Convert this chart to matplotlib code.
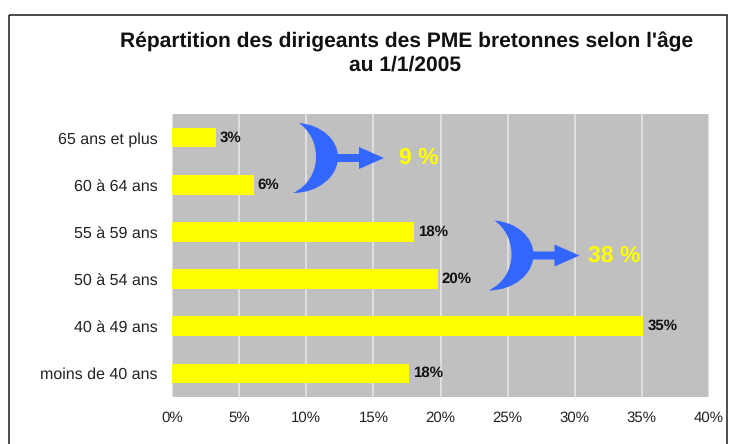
import matplotlib
matplotlib.use("Agg")
import matplotlib.pyplot as plt
from matplotlib.path import Path
from matplotlib.patches import PathPatch, Rectangle

plt.rcParams['font.family'] = ['Liberation Sans', 'DejaVu Sans']
plt.rcParams['text.hinting'] = 'none'
plt.rcParams['text.hinting_factor'] = 1

# donnees
categories = ["moins de 40 ans", "40 à 49 ans", "50 à 54 ans", "55 à 59 ans", "60 à 64 ans", "65 ans et plus"]
values = [17.65, 35.1, 19.8, 18.0, 6.1, 3.28]
labels = ["18%", "35%", "20%", "18%", "6%", "3%"]
xticks = [0, 5, 10, 15, 20, 25, 30, 35, 40]

W, H = 739, 444
fig = plt.figure(figsize=(W / 100, H / 100), dpi=100, facecolor='white')

# cadre et formes dessines en pixels
over = fig.add_axes([0, 0, 1, 1], zorder=0)
over.set_xlim(0, W)
over.set_ylim(H, 0)
over.axis('off')
over.add_patch(Rectangle((9, 15), 718, 440, fill=False, edgecolor='#1a1a1a', linewidth=1.1, clip_on=False))

# zone du graphique
ax = fig.add_axes([172 / W, 1 - 397 / H, 537 / W, 283 / H], zorder=1)
ax.set_facecolor('#c0c0c0')
ax.barh(range(len(values)), values, height=0.42, color='#ffff00', zorder=3)
ax.set_xlim(0, 40)
ax.set_ylim(-0.5, 5.5)
ax.set_xticks(xticks)
ax.set_xticklabels([f"{t}%" for t in xticks], fontsize=11, color='#222222')
ax.set_yticks(range(len(categories)))
ax.set_yticklabels(categories, fontsize=11.5, color='#222222')
ax.tick_params(length=0)
ax.tick_params(axis='x', pad=10)
ax.tick_params(axis='y', pad=10.5)
ax.grid(axis='x', color='#e8e8e8', linewidth=1.1, zorder=1)
ax.set_axisbelow(True)
for s in ax.spines.values():
    s.set_visible(False)
for i, v in enumerate(values):
    ax.text(v + 0.3, i, labels[i], va='center', ha='left', fontsize=11, fontweight='bold', color='#111111', zorder=4)

# titre
fig.text(407 / W, 1 - 42 / H, "Répartition des dirigeants des PME bretonnes selon l'âge",
         ha='center', va='center', fontsize=14.8, fontweight='bold', color='#111111')
fig.text(405 / W, 1 - 65 / H, "au 1/1/2005",
         ha='center', va='center', fontsize=14.8, fontweight='bold', color='#111111')

# fleches bleues et totaux
top = fig.add_axes([0, 0, 1, 1], zorder=2)
top.set_xlim(0, W)
top.set_ylim(H, 0)
top.axis('off')
top.patch.set_alpha(0)


def crescent(dx, dy):
    verts = [(299, 123), (322, 125), (338, 140), (338, 157), (338, 177), (318, 193), (293, 193),
             (308, 186), (316, 172), (316, 157), (316, 143), (310, 131), (299, 123), (299, 123)]
    codes = [Path.MOVETO] + [Path.CURVE4] * 12 + [Path.CLOSEPOLY]
    top.add_patch(PathPatch(Path([(x + dx, y + dy) for x, y in verts], codes), facecolor='#3366ff', edgecolor='none'))
    arrow = [(336, 154), (359, 154), (359, 147), (384, 158), (359, 169), (359, 162), (336, 162), (336, 154)]
    codes2 = [Path.MOVETO] + [Path.LINETO] * 6 + [Path.CLOSEPOLY]
    top.add_patch(PathPatch(Path([(x + dx, y + dy) for x, y in arrow], codes2), facecolor='#3366ff', edgecolor='none'))


crescent(0, 0)
crescent(195.5, 97.5)
top.text(399, 158, "9 %", color='#ffff00', fontsize=16.8, fontweight='bold', va='center', ha='left')
top.text(588, 255.5, "38 %", color='#ffff00', fontsize=16.8, fontweight='bold', va='center', ha='left')

fig.savefig("out.png", dpi=100)
